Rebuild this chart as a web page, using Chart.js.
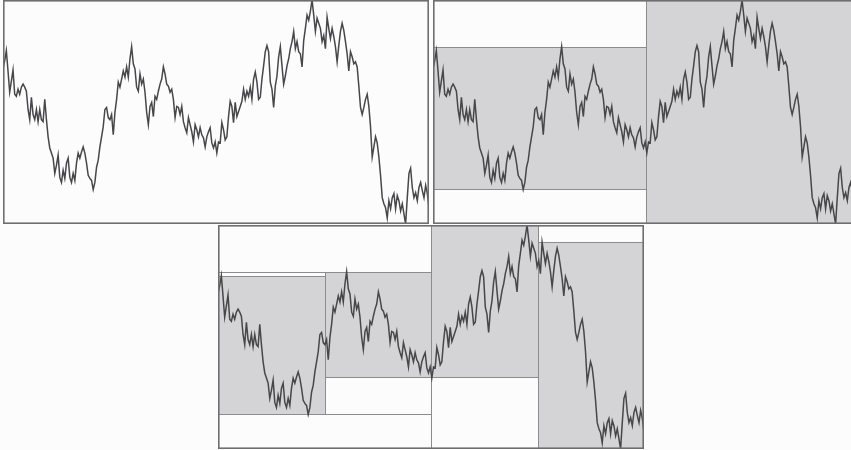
<!DOCTYPE html>
<html>
<head>
<meta charset="utf-8">
<script src="https://cdn.jsdelivr.net/npm/chart.js@4/dist/chart.umd.min.js"></script>
<style>
  html, body { margin: 0; padding: 0; background: #fcfcfc; overflow: hidden; width: 851px; height: 450px; }
  .panel { position: absolute; width: 426px; height: 224px; }
</style>
</head>
<body>
<div class="panel" style="left:3px;top:0px"><canvas id="level0" width="426" height="224"></canvas></div>
<div class="panel" style="left:433px;top:0px"><canvas id="level1" width="426" height="224"></canvas></div>
<div class="panel" style="left:218px;top:225px"><canvas id="level2" width="426" height="224"></canvas></div>
<script>
// series, one value per sample (arbitrary units, higher = up)
const series = [
  154, 162, 172, 152, 131, 142, 153, 129, 127, 134, 129, 136,
  139, 136, 132, 114, 104, 126, 109, 104, 114, 102, 114, 104, 102, 124, 104, 87, 76, 71, 66, 51,
  59, 69, 47, 42, 54, 46, 61, 66, 47, 42, 51, 44, 61, 71, 66, 72, 77, 71, 61, 49,
  46, 44, 35, 42, 57, 64, 77, 87, 97, 114, 116, 106,
  104, 109, 89, 111, 124, 141, 136, 144, 152, 146, 156, 146, 164, 176, 159, 154, 136, 132, 149, 139,
  144, 131, 111, 99, 117, 121, 107, 127, 124, 132, 139, 144, 156, 149, 139, 137, 131, 134, 124, 106,
  117, 116, 109, 117, 102, 96, 91, 106, 99, 92, 82, 99, 94, 87, 96, 89, 86, 77, 87, 92,
  96, 81, 76, 82, 71,
  82, 81, 101, 94, 84, 87, 107, 122, 117, 101, 121, 107, 112, 117, 122, 134, 124, 132, 127, 136,
  124, 144, 151, 141, 124, 126, 144, 157, 171, 177, 171, 141, 134, 116, 137, 147, 166, 176, 157, 139,
  147, 157, 164, 174, 181, 191, 174, 181, 171, 169, 156, 182, 194, 207, 202, 211, 222, 207, 191, 204,
  199, 194, 181,
  187, 174, 205, 194, 184, 194, 186, 176, 161, 177, 191, 199, 192, 181, 169, 152, 171, 166, 159, 161,
  156, 137, 116, 109, 116, 124, 129, 117, 97, 67, 77, 87, 81, 67, 49, 27, 21, 17, 7, 24,
  16, 27, 31, 16, 29, 24, 14, 21, 11, 1, 27, 51, 56, 37, 27, 32, 24, 37, 42, 34,
  27, 39, 31, 17
];
const sampleIndex = series.map((v, i) => i);
// levels of the split: whole series, halves, quarters
const levels = [0, 1, 2];

const N = series.length;
const yMin = Math.min(...series);
const yMax = Math.max(...series);

const PANEL_BORDER = '#6e6e6e';
const BOX_BORDER = '#8c8c8c';
const BOX_GRAY = '#d4d4d6';
const BOX_WHITE = '#fcfcfc';

function segment(chart, n, k, fill) {
    const { ctx, scales: { x, y } } = chart;
    const s = (N - 1) * k / n, e = (N - 1) * (k + 1) / n;
    const part = series.slice(Math.floor(s), Math.ceil(e) + 1);
    const x0 = Math.round(x.getPixelForValue(s));
    const x1 = Math.round(x.getPixelForValue(e));
    const y0 = Math.round(y.getPixelForValue(Math.max(...part)));
    const y1 = Math.round(y.getPixelForValue(Math.min(...part)));
    ctx.fillStyle = fill;
    ctx.fillRect(x0, y0, x1 - x0, y1 - y0);
    ctx.strokeStyle = BOX_BORDER;
    ctx.lineWidth = 1;
    ctx.strokeRect(x0 + 0.5, y0 + 0.5, x1 - x0, y1 - y0 - 1);
}

const boxesPlugin = {
    id: 'boxes',
    beforeDatasetsDraw(chart, args, opts) {
        const { ctx, chartArea: a } = chart;
        ctx.save();
        ctx.fillStyle = BOX_WHITE;
        ctx.fillRect(a.left, a.top, a.width, a.height);
        const lv = opts.level;
        if (lv >= 2) {
            const np = Math.pow(2, lv - 1);
            for (let k = 0; k < np; k++) segment(chart, np, k, BOX_WHITE);
        }
        if (lv >= 1) {
            const n = Math.pow(2, lv);
            for (let k = 0; k < n; k++) segment(chart, n, k, BOX_GRAY);
        }
        ctx.restore();
    },
    afterDraw(chart) {
        const { ctx, chartArea: a } = chart;
        ctx.save();
        ctx.strokeStyle = PANEL_BORDER;
        ctx.lineWidth = 1.6;
        ctx.strokeRect(a.left + 0.8, a.top + 0.8, a.width - 1.6, a.height - 1.6);
        ctx.restore();
    }
};

levels.forEach(lv => {
    new Chart(document.getElementById('level' + lv), {
        type: 'line',
        data: {
            datasets: [{
                data: sampleIndex.map(i => ({ x: i, y: series[i] })),
                borderColor: '#47474a',
                borderWidth: 1.5,
                pointRadius: 0,
                tension: 0,
                fill: false
            }]
        },
        options: {
            responsive: false,
            animation: false,
            devicePixelRatio: 1,
            layout: { padding: 0 },
            plugins: {
                legend: { display: false },
                tooltip: { enabled: false },
                boxes: { level: lv }
            },
            scales: {
                x: { type: 'linear', display: false, min: 0, max: N - 1 },
                y: { display: false, min: yMin, max: yMax }
            }
        },
        plugins: [boxesPlugin]
    });
});
</script>
</body>
</html>
